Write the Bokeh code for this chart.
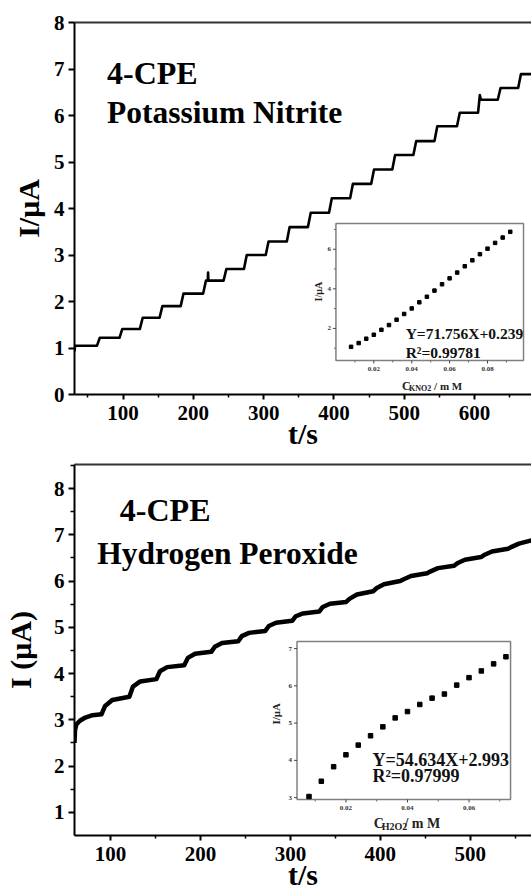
import math
from bokeh.plotting import figure
from bokeh.models import Range1d, FixedTicker, LinearAxis, Label
from bokeh.layouts import column
from bokeh.core.properties import value
from bokeh.embed import file_html
from bokeh.resources import INLINE

FONT = "Liberation Serif"

# ---------------- data: top panel (Potassium Nitrite) ----------------
top_t_start = [31, 31.8]
top_v_start = [0.93, 1.05]
top_step_t = [63, 95, 124, 152, 182, 214, 243, 272, 303, 333, 363, 393, 423,
              453, 483, 513, 543, 575, 605, 633, 662]
top_levels = [1.05, 1.22, 1.41, 1.65, 1.90, 2.17, 2.45, 2.70, 3.00, 3.29, 3.60,
              3.91, 4.22, 4.53, 4.84, 5.15, 5.45, 5.77, 6.06, 6.34, 6.59, 6.89]
top_extra_t = [220.6, 221.0, 221.4, 607.5]
top_extra_v = [2.45, 2.62, 2.45, 6.44]
top_t_end = 681

# inset (top)
kno2_conc = [0.008, 0.012, 0.016, 0.020, 0.024, 0.028, 0.032, 0.036, 0.040, 0.044,
             0.048, 0.052, 0.056, 0.060, 0.064, 0.068, 0.072, 0.076, 0.080, 0.084,
             0.088, 0.092]
kno2_current = [1.07, 1.26, 1.48, 1.68, 1.93, 2.17, 2.44, 2.73, 3.01, 3.32, 3.60,
                3.91, 4.23, 4.53, 4.82, 5.14, 5.44, 5.75, 6.03, 6.32, 6.59, 6.88]
kno2_xticks = [0.02, 0.04, 0.06, 0.08]
kno2_xminor = [0.01, 0.03, 0.05, 0.07, 0.09]
kno2_yticks = [2, 4, 6]
kno2_yminor = [1, 3, 5, 7]

# ---------------- data: bottom panel (Hydrogen Peroxide) ----------------
bot_t_start = [60, 60.6, 62, 66, 72, 80, 90]
bot_v_start = [2.50, 2.78, 2.90, 2.98, 3.05, 3.10, 3.12]
bot_step_t = [90, 121, 151, 182, 212, 242, 272, 302, 332, 362, 392, 422, 452,
              482, 512, 542]
bot_jump = [3.30, 3.72, 4.05, 4.34, 4.58, 4.81, 5.03, 5.24, 5.44, 5.62, 5.85,
            6.04, 6.21, 6.39, 6.57, 6.74]
bot_mid = [3.43, 3.83, 4.14, 4.43, 4.66, 4.88, 5.10, 5.30, 5.51, 5.71, 5.93,
           6.11, 6.28, 6.46, 6.64, 6.81]
bot_end = [3.50, 3.88, 4.18, 4.47, 4.70, 4.92, 5.14, 5.34, 5.55, 5.78, 6.00,
           6.17, 6.33, 6.52, 6.70, 6.88]
bot_t_end = 568

# inset (bottom)
h2o2_conc = [0.008, 0.012, 0.016, 0.020, 0.024, 0.028, 0.032, 0.036, 0.040,
             0.044, 0.048, 0.052, 0.056, 0.060, 0.064, 0.068, 0.072]
h2o2_current = [3.03, 3.44, 3.83, 4.15, 4.41, 4.66, 4.90, 5.14, 5.31, 5.50,
                5.67, 5.78, 6.02, 6.22, 6.40, 6.59, 6.78]
h2o2_xticks = [0.02, 0.04, 0.06]
h2o2_xminor = [0.01, 0.03, 0.05, 0.07]
h2o2_yticks = [3, 4, 5, 6, 7]
h2o2_yminor = []

# ---------------- build line vertices ----------------
tx = list(top_t_start)
tv = list(top_v_start)
for i, ts in enumerate(top_step_t):
    tx += [ts, ts + 4]
    tv += [top_levels[i], top_levels[i + 1]]
tx.append(top_t_end)
tv.append(top_levels[-1])
pts = sorted(zip(tx + top_extra_t, tv + top_extra_v))
tx = [p[0] for p in pts]
tv = [p[1] for p in pts]

bx = list(bot_t_start)
bv = list(bot_v_start)
for i, ts in enumerate(bot_step_t):
    nxt = bot_step_t[i + 1] if i + 1 < len(bot_step_t) else bot_t_end
    bx += [ts + 4, ts + 12, nxt]
    bv += [bot_jump[i], bot_mid[i], bot_end[i]]


def style_main(p, ylabel, y_standoff):
    p.xgrid.visible = False
    p.ygrid.visible = False
    p.outline_line_color = None
    p.background_fill_color = "white"
    p.border_fill_color = "white"
    for ax in (p.xaxis[0], p.yaxis[0]):
        ax.axis_line_width = 2
        ax.axis_line_color = "black"
        ax.major_tick_line_width = 2
        ax.minor_tick_line_width = 1.5
        ax.major_tick_in = 0
        ax.minor_tick_in = 0
        ax.major_label_text_font = FONT
        ax.major_label_text_font_style = "bold"
        ax.major_label_text_font_size = "21px"
        ax.major_label_text_color = "black"
        ax.axis_label_text_font = FONT
        ax.axis_label_text_font_style = "bold"
        ax.axis_label_text_font_size = "30px"
        ax.axis_label_text_color = "black"
    p.xaxis[0].major_tick_out = 5
    p.xaxis[0].minor_tick_out = 3
    p.yaxis[0].major_tick_out = 6
    p.yaxis[0].minor_tick_out = 4
    p.xaxis[0].major_label_standoff = 6
    p.yaxis[0].major_label_standoff = 4
    p.xaxis[0].axis_label = "t/s"
    p.xaxis[0].axis_label_standoff = -6
    p.yaxis[0].axis_label = ylabel
    p.yaxis[0].axis_label_standoff = y_standoff
    top = LinearAxis(ticker=FixedTicker(ticks=[]), major_label_text_font_size="0px",
                     major_tick_line_color=None, minor_tick_line_color=None,
                     axis_line_width=2, axis_line_color="#333333")
    p.add_layout(top, "above")


def add_inset(p, frame_px, inset_px, xr, yr, xt, xm, yt, ym, conc, cur,
              msize, tick_px, ylab_px, ylab_dx, ylab_y):
    fx0, fx1, fy0, fy1 = frame_px
    ax0, ax1, ay0, ay1 = inset_px
    ix0, ix1 = xr
    iy0, iy1 = yr
    kx = (ax1 - ax0) / (ix1 - ix0)
    ky = (ay1 - ay0) / (iy1 - iy0)
    p.extra_x_ranges = {"ix": Range1d(ix0 - (ax0 - fx0) / kx, ix1 + (fx1 - ax1) / kx)}
    p.extra_y_ranges = {"iy": Range1d(iy0 - (fy1 - ay1) / ky, iy1 + (ay0 - fy0) / ky)}
    rn = dict(x_range_name="ix", y_range_name="iy")
    p.quad(left=[ix0], right=[ix1], bottom=[iy0], top=[iy1], fill_color="white",
           line_color="#808080", line_width=1.5, **rn)
    p.segment(x0=xt, y0=[iy0] * len(xt), x1=xt, y1=[iy0 - 3 / ky] * len(xt),
              line_color="#444444", line_width=1, **rn)
    p.segment(x0=xm, y0=[iy0] * len(xm), x1=xm, y1=[iy0 - 2 / ky] * len(xm),
              line_color="#666666", line_width=1, **rn)
    p.segment(x0=[ix0] * len(yt), y0=yt, x1=[ix0 - 3 / kx] * len(yt), y1=yt,
              line_color="#444444", line_width=1, **rn)
    if ym:
        p.segment(x0=[ix0] * len(ym), y0=ym, x1=[ix0 - 2 / kx] * len(ym), y1=ym,
                  line_color="#666666", line_width=1, **rn)
    p.text(x=xt, y=[iy0] * len(xt), text=["%.2f" % v for v in xt],
           y_offset=8, text_align="center", text_baseline="middle",
           text_font=value(FONT), text_font_style="bold", text_font_size=tick_px,
           text_color="#333333", **rn)
    p.text(x=[ix0] * len(yt), y=yt, text=["%d" % v for v in yt],
           x_offset=-5, text_align="right", text_baseline="middle",
           text_font=value(FONT), text_font_style="bold", text_font_size=tick_px,
           text_color="#333333", **rn)
    p.add_layout(Label(x=ix0, y=ylab_y, x_offset=ylab_dx, text="I/μA", angle=math.pi / 2,
                       text_align="center", text_baseline="middle", text_font=FONT,
                       text_font_style="bold", text_font_size=ylab_px,
                       text_color="#222222", **rn))
    p.scatter(conc, cur, marker="square", size=msize, color="black", **rn)


def lab(p, x, y, text, size, yoff=0, color="black", ranged=False):
    kw = dict(x_range_name="ix", y_range_name="iy") if ranged else {}
    p.add_layout(Label(x=x, y=y, y_offset=yoff, text=text, text_font=FONT,
                       text_font_style="bold", text_font_size=size,
                       text_baseline="alphabetic", text_color=color, **kw))


# ---------------- top figure ----------------
p1 = figure(width=531, height=455, x_range=Range1d(31, 681), y_range=Range1d(0, 8),
            output_backend="svg", toolbar_location=None,
            min_border_left=73, min_border_right=0, min_border_top=22,
            min_border_bottom=61)
p1.xaxis.ticker = FixedTicker(ticks=[100, 200, 300, 400, 500, 600],
                              minor_ticks=[50, 150, 250, 350, 450, 550, 650])
p1.yaxis.ticker = FixedTicker(ticks=[0, 1, 2, 3, 4, 5, 6, 7, 8], minor_ticks=[])
style_main(p1, "I/μA", 6)
p1.line(tx, tv, line_color="black", line_width=2.6, line_join="round")
lab(p1, 77.2, 6.91, "4-CPE", "32px")
lab(p1, 77.2, 6.06, "Potassium Nitrite", "31.5px")

add_inset(p1, (73, 531, 22, 394), (335, 523, 223, 360), (0, 0.099), (0.38, 7.3),
          kno2_xticks, kno2_xminor, kno2_yticks, kno2_yminor, kno2_conc, kno2_current,
          3.5, "7px", "10px", -17, 3.86)
lab(p1, 0.0368, 1.76, "Y=71.756X+0.239", "15.5px", color="#111111", ranged=True)
lab(p1, 0.0368, 0.80, "R²=0.99781", "15.5px", color="#111111", ranged=True)
lab(p1, 0.0349, 0.38, "C", "12px", yoff=-25, color="#222222", ranged=True)
lab(p1, 0.0386, 0.38, "KNO2", "8px", yoff=-28, color="#222222", ranged=True)
lab(p1, 0.0518, 0.38, "/ m M", "11px", yoff=-25, color="#222222", ranged=True)

# ---------------- bottom figure ----------------
p2 = figure(width=531, height=441, x_range=Range1d(60, 568), y_range=Range1d(0.5, 8.52),
            output_backend="svg", toolbar_location=None,
            min_border_left=73, min_border_right=0, min_border_top=9,
            min_border_bottom=61)
p2.xaxis.ticker = FixedTicker(ticks=[100, 200, 300, 400, 500],
                              minor_ticks=[150, 250, 350, 450, 550])
p2.yaxis.ticker = FixedTicker(ticks=[1, 2, 3, 4, 5, 6, 7, 8],
                              minor_ticks=[1.5, 2.5, 3.5, 4.5, 5.5, 6.5, 7.5, 8.5])
style_main(p2, "I (μA)", 14)
p2.line(bx, bv, line_color="black", line_width=4.5, line_join="round")
lab(p2, 110.4, 7.54, "4-CPE", "32px")
lab(p2, 85.3, 6.60, "Hydrogen Peroxide", "31.5px")

add_inset(p2, (73, 531, 9, 380), (296, 510, 186, 344), (0.0041, 0.0735), (2.95, 7.19),
          h2o2_xticks, h2o2_xminor, h2o2_yticks, h2o2_yminor, h2o2_conc, h2o2_current,
          4.5, "7px", "11px", -21, 5.25)
lab(p2, 0.0286, 4.02, "Y=54.634X+2.993", "18px", color="#111111", ranged=True)
lab(p2, 0.0286, 3.59, "R²=0.97999", "18px", color="#111111", ranged=True)
lab(p2, 0.0290, 2.95, "C", "14px", yoff=-24, color="#222222", ranged=True)
lab(p2, 0.0316, 2.95, "H2O2", "10px", yoff=-27, color="#222222", ranged=True)
lab(p2, 0.0390, 2.95, "/ m M", "14px", yoff=-24, color="#222222", ranged=True)

layout = column(p1, p2, spacing=0)
open("out.html", "w").write(file_html(layout, INLINE))
